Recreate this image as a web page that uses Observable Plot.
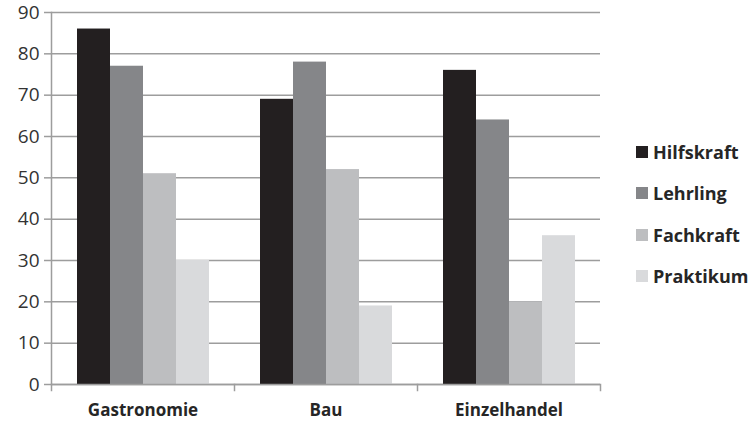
<!DOCTYPE html>
<html><head><meta charset="utf-8">
<script src="https://cdn.jsdelivr.net/npm/d3@7"></script>
<script src="https://cdn.jsdelivr.net/npm/@observablehq/plot@0.6"></script>
<style>
body{margin:0;background:#fff;font-family:"Open Sans",sans-serif;}
#wrap{position:relative;width:748px;height:423px;}
#legend{position:absolute;left:636px;top:131px;}
.item{display:flex;align-items:center;height:41.5px;font-weight:bold;font-size:18px;color:#262626;white-space:nowrap}
.sw{width:12px;height:12px;margin-right:5px;flex:none}
</style></head><body><div id="wrap"></div>
<script>
const categories = ["Gastronomie", "Bau", "Einzelhandel"];
const series = ["Hilfskraft", "Lehrling", "Fachkraft", "Praktikum"];
const hilfskraft = [86, 69, 76];
const lehrling = [77, 78, 64];
const fachkraft = [51, 52, 20];
const praktikum = [30, 19, 36];
const colors = ["#231f20", "#858689", "#bdbec0", "#d9dadc"];
const yTicks = [0, 10, 20, 30, 40, 50, 60, 70, 80, 90];

const values = [hilfskraft, lehrling, fachkraft, praktikum];
const data = [];
categories.forEach((c, i) => series.forEach((s, j) => data.push({category: c, series: s, value: values[j][i]})));

const grid = "#9d9d9d";
const chart = Plot.plot({
  width: 748, height: 423,
  marginLeft: 50, marginRight: 148, marginTop: 12, marginBottom: 39,
  style: {fontFamily: "Open Sans", fontSize: "18px", background: "#fff", overflow: "visible"},
  fx: {domain: categories, padding: 0, label: null},
  x: {domain: series, paddingInner: 0, paddingOuter: 0.75, axis: null},
  y: {domain: [0, 90], axis: null},
  color: {domain: series, range: colors},
  marks: [
    Plot.gridY(yTicks, {stroke: grid, strokeOpacity: 1, strokeWidth: 1.5}),
    Plot.barY(data, {fx: "category", x: "series", y: "value", fill: "series"}),
    Plot.axisY(yTicks, {tickSize: 7, tickPadding: 5, stroke: grid, strokeWidth: 1.5, fill: "#333", fontSize: 19, label: null}),
    Plot.frame({anchor: "left", facetAnchor: "left", stroke: grid, strokeWidth: 1.5}),
    Plot.ruleY([0], {stroke: grid, strokeWidth: 1.5}),
    Plot.frame({anchor: "left", insetTop: 372, insetBottom: -6, stroke: grid, strokeWidth: 1.5}),
    Plot.frame({anchor: "right", facetAnchor: "right", insetTop: 372, insetBottom: -6, stroke: grid, strokeWidth: 1.5}),
    Plot.axisFx({anchor: "bottom", tickSize: 0, tickPadding: 19, fontWeight: "bold", fontSize: 17, fill: "#262626", label: null})
  ]
});
const wrap = document.getElementById("wrap");
wrap.appendChild(chart);
const legend = document.createElement("div");
legend.id = "legend";
series.forEach((s, i) => {
  const item = document.createElement("div");
  item.className = "item";
  const sw = document.createElement("span");
  sw.className = "sw";
  sw.style.background = colors[i];
  item.appendChild(sw);
  item.appendChild(document.createTextNode(s));
  legend.appendChild(item);
});
wrap.appendChild(legend);
</script></body></html>
